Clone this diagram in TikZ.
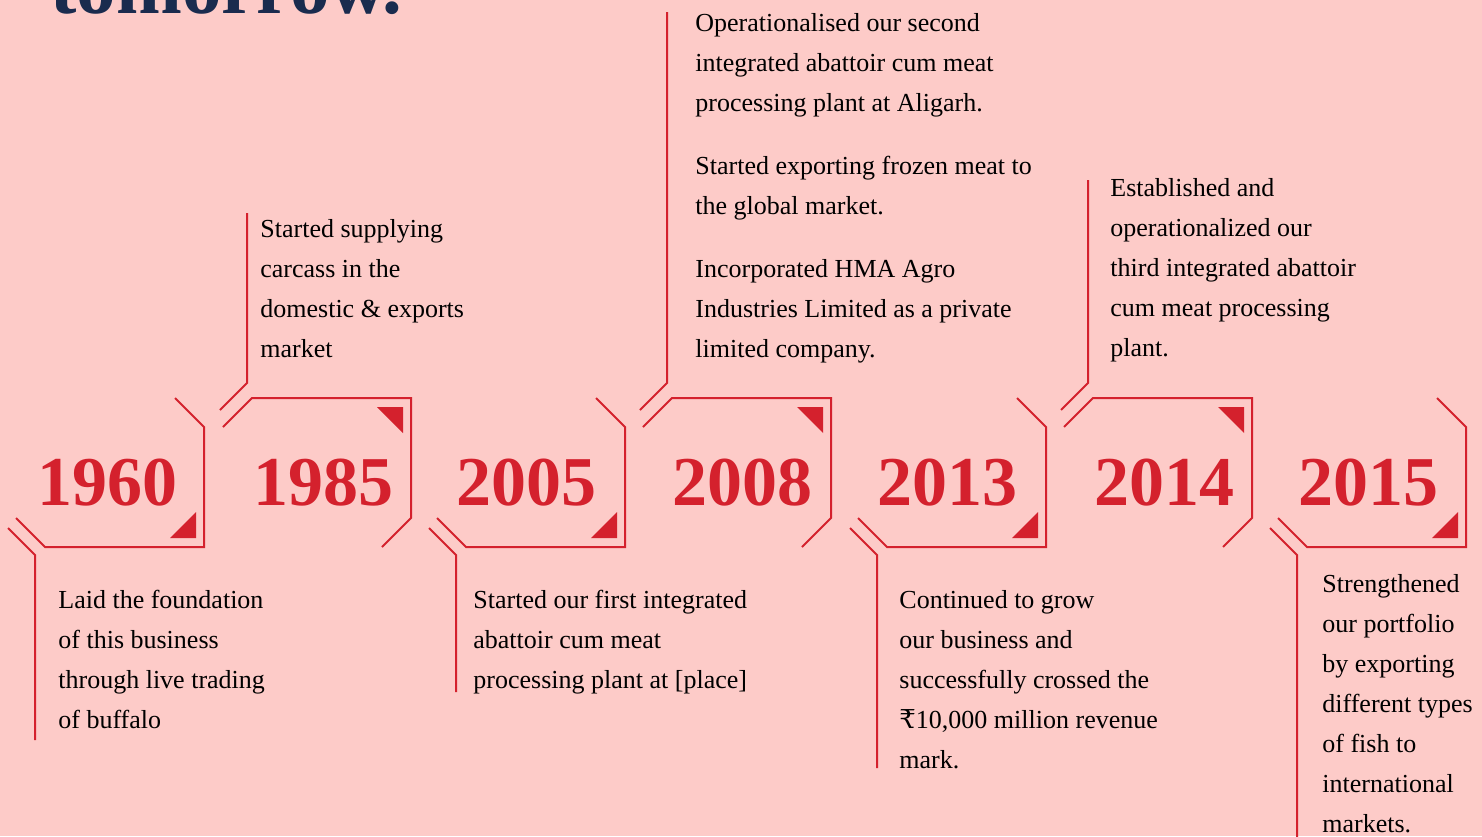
\documentclass[tikz,border=0pt]{standalone}
\usepackage{fontspec}
\setmainfont{Liberation Serif}
\newfontfamily\rupeefont{DejaVu Serif}
\usetikzlibrary{positioning}

\definecolor{bgpink}{HTML}{FDCBC8}
\definecolor{yearred}{HTML}{D4212D}
\definecolor{titlenavy}{HTML}{1A2B4E}

\tikzset{
  frame/.style={draw=yearred, line width=1pt},
  yearlabel/.style={text=yearred, inner sep=0pt, anchor=base, font=\bfseries\fontsize{35}{35}\selectfont},
  desc/.style={inner sep=0pt, anchor=base west, align=left, font=\fontsize{13}{20}\selectfont},
}

\begin{document}
\begin{tikzpicture}[x=0.5pt, y=-0.5pt]
  \fill[bgpink] (0,0) rectangle (1482,836);
  \useasboundingbox (0,0) rectangle (1482,836);
  \clip (0,0) rectangle (1482,836);

  \node[anchor=base west, inner sep=0pt, text=titlenavy, font=\bfseries\fontsize{39.5}{40}\selectfont] (title) at (50,13) {tomorrow.};

  % year frames: s=1 opens downwards, s=-1 opens upwards
  % (sx,sy) is where the stem leaves the outer corner line
  \foreach \yr/\rx/\tx/\s/\sx/\sy/\tip in {1960/204/107/1/-169/82.5/740,
      1985/411/323/-1/-164/89.5/213, 2005/625/526/1/-169/82.5/692,
      2008/831/742/-1/-164/89.5/12, 2013/1046/947/1/-169/82.5/768,
      2014/1252/1164/-1/-164/89.5/180, 2015/1466/1368/1/-169/82.5/840}{
    \begin{scope}[shift={(\rx,472.5)}, yscale=\s]
      \draw[frame] (-29,-74.5) -- (0,-45.5) -- (0,74.5) -- (-159,74.5) -- (-188,45.5);
      \draw[frame] ({\sx-27},{\sy-27}) -- (\sx,\sy) -- (\sx,{(\tip-472.5)*\s});
      \fill[yearred] (-34,65.5) -- (-8,65.5) -- (-8,39.5) -- cycle;
    \end{scope}
    \node[yearlabel] (y\yr) at (\tx,505) {\yr};
  }

  % texts, placed by the baseline of their last line
  \node[desc] (t1960) at (58,728) {Laid the foundation\\of this business\\through live trading\\of buffalo};
  \node[desc] (t1985) at (260,357) {Started supplying\\carcass in the\\domestic \& exports\\market};
  \node[desc] (t2005) at (473,688) {Started our first integrated\\abattoir cum meat\\processing plant at [place]};
  \node[desc] (t2008a) at (695,111) {Operationalised our second\\integrated abattoir cum meat\\processing plant at Aligarh.};
  \node[desc] (t2008b) at (695,214) {Started exporting frozen meat to\\the global market.};
  \node[desc] (t2008c) at (695,357) {Incorporated HMA Agro\\Industries Limited as a private\\limited company.};
  \node[desc] (t2013) at (899,768) {Continued to grow\\our business and\\successfully crossed the\\{\rupeefont ₹}10,000 million revenue\\mark.};
  \node[desc] (t2014) at (1110,356) {Established and\\operationalized our\\third integrated abattoir\\cum meat processing\\plant.};
  \node[desc] (t2015) at (1322,832) {Strengthened\\our portfolio\\by exporting\\different types\\of fish to\\international\\markets.};
\end{tikzpicture}
\end{document}
